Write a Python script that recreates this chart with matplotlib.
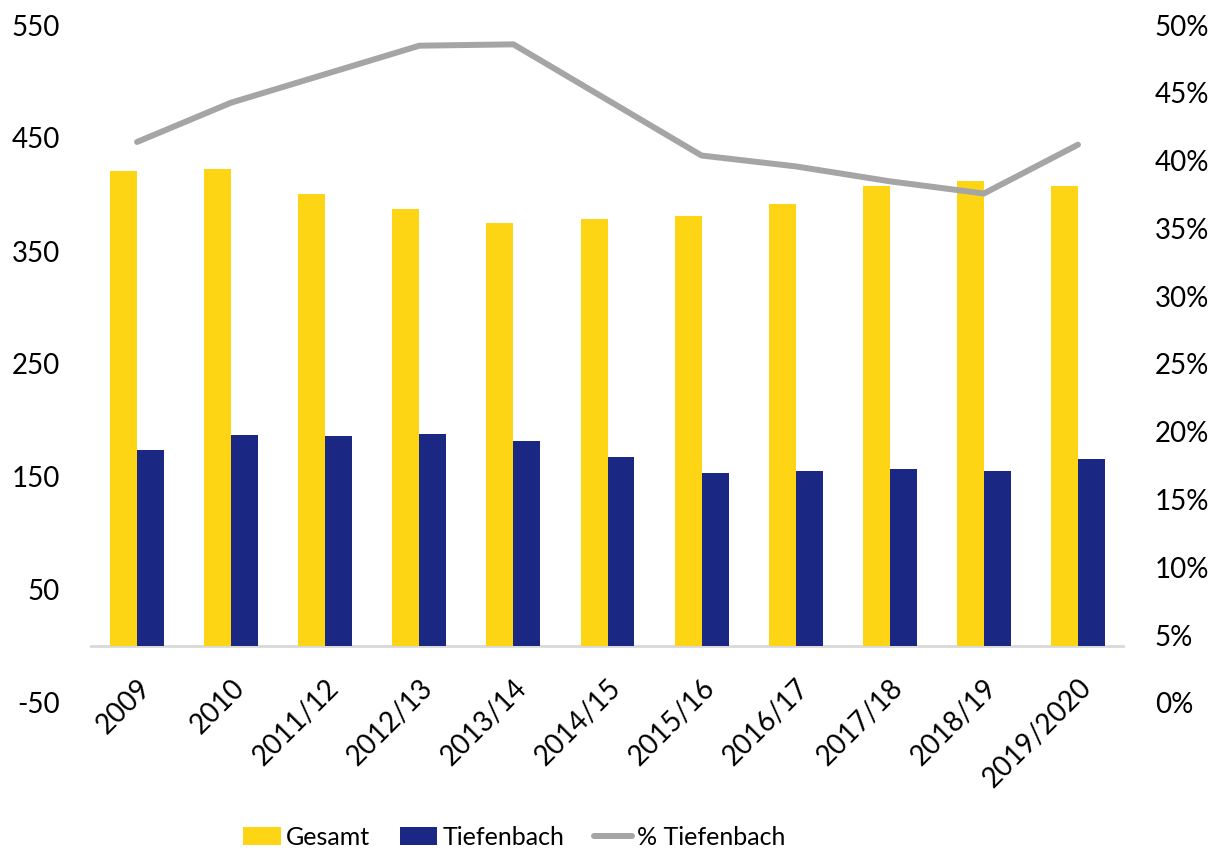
import matplotlib
matplotlib.use("Agg")
import matplotlib.pyplot as plt
import numpy as np
from matplotlib.ticker import FuncFormatter

categories = ["2009", "2010", "2011/12", "2012/13", "2013/14", "2014/15",
              "2015/16", "2016/17", "2017/18", "2018/19", "2019/2020"]
gesamt = [420, 422, 400, 386, 374, 377, 380, 391, 407, 411, 407]
tiefenbach = [173, 186, 185, 187, 181, 167, 153, 154, 156, 154, 165]
pct_tiefenbach = [41.3, 44.2, 46.3, 48.4, 48.5, 44.4, 40.3, 39.5, 38.4, 37.5, 41.1]

left_ticks = [-50, 50, 150, 250, 350, 450, 550]
right_ticks = [0, 5, 10, 15, 20, 25, 30, 35, 40, 45, 50]

plt.rcParams['font.family'] = ['Lato', 'DejaVu Sans']
plt.rcParams['axes.unicode_minus'] = False
FS = 20

fig = plt.figure(figsize=(12.12, 8.53), dpi=100)
ax = fig.add_axes([90/1212, 1-703/853, (1125-90)/1212, (703-25)/853])
ax2 = ax.twinx()

x = np.arange(len(categories))
w = 0.286
ax.bar(x - w/2, gesamt, width=w, color="#FDD514", label="Gesamt", zorder=2)
ax.bar(x + w/2, tiefenbach, width=w, color="#1A2783", label="Tiefenbach", zorder=2)
ax.set_xlim(-0.5, len(categories) - 0.5)
ax.set_ylim(-50, 550)
ax.set_yticks(left_ticks)
ax.axhline(0, color="#D9D9D9", lw=2, zorder=1)

ax2.plot(x, pct_tiefenbach, color="#A5A5A5", lw=4.3, solid_capstyle='round',
         label="% Tiefenbach", zorder=3)
ax2.set_ylim(0, 50)
ax2.set_yticks(right_ticks)
ax2.yaxis.set_major_formatter(FuncFormatter(lambda v, p: f"{int(round(v))}%"))

for a in (ax, ax2):
    for s in a.spines.values():
        s.set_visible(False)
    a.tick_params(length=0, labelsize=FS, colors="black")

ax.spines['bottom'].set_position(('data', 0))
ax.tick_params(axis='y', pad=21.5)
ax2.tick_params(axis='y', pad=21.5)
ax.set_xticks(x)
ax.set_xticklabels(categories, rotation=45, ha='right', va='top',
                   rotation_mode='anchor', fontsize=FS)
ax.tick_params(axis='x', pad=20)

h1, l1 = ax.get_legend_handles_labels()
h2, l2 = ax2.get_legend_handles_labels()
fig.legend(h1 + h2, l1 + l2, loc='center', bbox_to_anchor=(514/1212, 1-838/853),
           ncol=3, frameon=False, fontsize=18, handlelength=1.5, handleheight=0.7,
           handletextpad=0.2, columnspacing=1.2)

fig.savefig("out.png", dpi=100)
